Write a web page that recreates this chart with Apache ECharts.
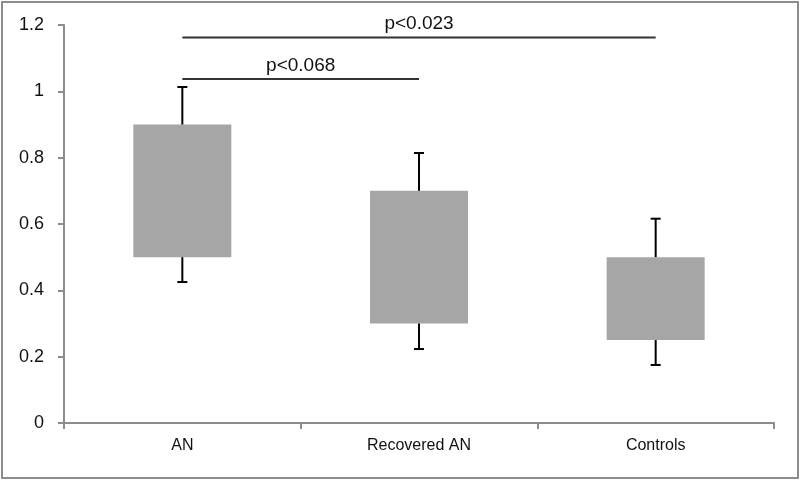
<!DOCTYPE html>
<html><head><meta charset="utf-8">
<script src="https://cdn.jsdelivr.net/npm/echarts@6/dist/echarts.min.js"></script>
<style>html,body{margin:0;padding:0;background:#fff}#c{width:800px;height:480px}
#frame{position:absolute;left:1px;top:1px;width:794px;height:474px;border:2px solid #8c8c8c;pointer-events:none}</style>
</head><body><div id="c"></div><div id="frame"></div>
<script>
var categories = ['AN', 'Recovered AN', 'Controls'];
var boxLow = [0.5, 0.3, 0.25];
var boxHigh = [0.9, 0.7, 0.5];
var whiskerLow = [0.425, 0.223, 0.175];
var whiskerHigh = [1.013, 0.814, 0.616];
var sigFrom = [0, 0];
var sigTo = [1, 2];
var sigY = [1.037, 1.162];
var sigLabels = ['p<0.068', 'p<0.023'];

var chart = echarts.init(document.getElementById('c'));
var font = 'Liberation Sans, Arial, sans-serif';
var whiskerData = categories.map(function (c, i) { return [i, whiskerLow[i], boxLow[i], boxHigh[i], whiskerHigh[i]]; });
var sigData = sigY.map(function (y, i) { return [sigFrom[i], sigTo[i], y, sigLabels[i]]; });

chart.setOption({
  animation: false,
  grid: { left: 64, right: 26, top: 25, bottom: 57 },
  xAxis: {
    type: 'category', data: categories,
    axisLine: { lineStyle: { color: '#8c8c8c', width: 2 } },
    axisTick: { show: true, length: 6, lineStyle: { color: '#8c8c8c', width: 2 } },
    axisLabel: { color: '#111', fontFamily: font, fontSize: 16, margin: 15 }
  },
  yAxis: {
    type: 'value', min: 0, max: 1.2, interval: 0.2,
    splitLine: { show: false },
    axisLine: { show: true, lineStyle: { color: '#8c8c8c', width: 2 } },
    axisTick: { show: true, length: 6, lineStyle: { color: '#8c8c8c', width: 2 } },
    axisLabel: { color: '#111', fontFamily: font, fontSize: 18, margin: 20,
      formatter: function (v) { return String(+v.toFixed(1)); } }
  },
  series: [
    { type: 'bar', stack: 'b', data: boxLow, barWidth: 98, itemStyle: { color: 'transparent' }, silent: true },
    { type: 'bar', stack: 'b', data: boxHigh.map(function (h, i) { return +(h - boxLow[i]).toFixed(4); }),
      barWidth: 98, itemStyle: { color: '#a6a6a6' } },
    {
      type: 'custom', data: whiskerData, z: 5,
      renderItem: function (params, api) {
        var x = api.value(0);
        var pLo = api.coord([x, api.value(1)]);
        var pB1 = api.coord([x, api.value(2)]);
        var pB2 = api.coord([x, api.value(3)]);
        var pHi = api.coord([x, api.value(4)]);
        var cx = pLo[0], hw = 5;
        var st = { stroke: '#000', lineWidth: 2 };
        return { type: 'group', children: [
          { type: 'line', shape: { x1: cx, y1: pLo[1], x2: cx, y2: pB1[1] }, style: st },
          { type: 'line', shape: { x1: cx - hw, y1: pLo[1], x2: cx + hw, y2: pLo[1] }, style: st },
          { type: 'line', shape: { x1: cx, y1: pB2[1], x2: cx, y2: pHi[1] }, style: st },
          { type: 'line', shape: { x1: cx - hw, y1: pHi[1], x2: cx + hw, y2: pHi[1] }, style: st }
        ] };
      }
    },
    {
      type: 'custom', data: sigData, z: 6,
      renderItem: function (params, api) {
        var p1 = api.coord([api.value(0), api.value(2)]);
        var p2 = api.coord([api.value(1), api.value(2)]);
        return { type: 'group', children: [
          { type: 'line', shape: { x1: p1[0], y1: p1[1], x2: p2[0], y2: p2[1] }, style: { stroke: '#333', lineWidth: 2 } },
          { type: 'text', x: (p1[0] + p2[0]) / 2, y: p1[1] - 4,
            style: { text: sigLabels[params.dataIndex], fill: '#111', font: '19px ' + font, align: 'center', verticalAlign: 'bottom' } }
        ] };
      }
    }
  ]
});
</script></body></html>
